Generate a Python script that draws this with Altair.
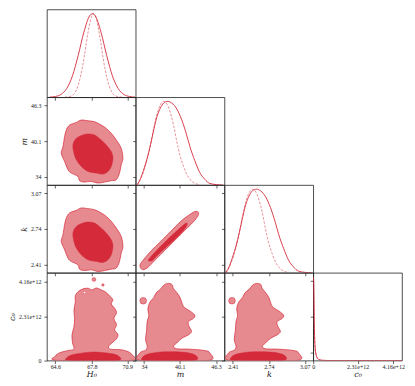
import altair as alt
import pandas as pd

# ---------------- axes ----------------
TITLES = ["H₀", "m", "k", "c₀"]
DOMAINS = [[63.86, 71.64], [32.56, 47.74], [2.333, 3.147], [0.0, 4.62]]
TICKS = [[64.6, 67.8, 70.9], [34.0, 40.1, 46.3], [2.41, 2.74, 3.07], [0.0, 2.31, 4.16]]
TICK_LABELS = [["64.6", "67.8", "70.9"], ["34", "40.1", "46.3"],
               ["2.41", "2.74", "3.07"], ["0", "2.31e+12", "4.16e+12"]]
DIAG_TICKS = [0.1, 0.525, 0.95]

# ---------------- 1D marginals (c0 in units of 1e12) ----------------
H0_X = [64.1, 64.6, 65.1, 65.6, 66.1, 66.6, 67.1, 67.6, 67.85, 68.1, 68.6, 69.1, 69.6, 70.1, 70.6, 71.1, 71.6]
H0_SOLID = [0.002, 0.009, 0.034, 0.105, 0.256, 0.499, 0.778, 0.973, 1.0, 0.973, 0.778, 0.499, 0.256, 0.105, 0.034, 0.009, 0.002]
H0_DX = [65.45, 65.95, 66.45, 66.95, 67.45, 67.7, 67.95, 68.2, 68.45, 68.95, 69.45, 69.95, 70.45]
H0_DASH = [0.001, 0.013, 0.088, 0.34, 0.763, 0.935, 1.0, 0.935, 0.763, 0.34, 0.088, 0.013, 0.001]

M_X = [32.56, 32.84, 33.40, 33.96, 34.53, 35.09, 35.65, 36.21, 36.78, 37.34, 38.07, 38.74, 39.59, 40.43, 41.27, 41.83, 42.68, 43.52, 44.36, 45.21, 46.33, 47.46]
M_SOLID = [0.0, 0.01, 0.08, 0.19, 0.32, 0.48, 0.66, 0.82, 0.92, 0.98, 1.0, 0.98, 0.91, 0.78, 0.6, 0.46, 0.29, 0.15, 0.07, 0.02, 0.005, 0.0]
M_DX = [32.84, 33.40, 33.96, 34.53, 35.09, 35.65, 36.21, 36.78, 37.34, 37.90, 38.46, 39.02, 39.59, 40.15, 40.71, 41.27, 41.83, 42.68, 43.52]
M_DASH = [0.0, 0.07, 0.17, 0.31, 0.48, 0.68, 0.85, 0.96, 1.0, 0.97, 0.87, 0.72, 0.52, 0.35, 0.23, 0.13, 0.07, 0.02, 0.005]

K_X = [2.333, 2.348, 2.378, 2.408, 2.439, 2.469, 2.499, 2.529, 2.559, 2.589, 2.628, 2.665, 2.710, 2.755, 2.800, 2.830, 2.876, 2.921, 2.966, 3.011, 3.072, 3.132]
K_SOLID = [0.0, 0.01, 0.08, 0.19, 0.32, 0.48, 0.66, 0.82, 0.92, 0.98, 1.0, 0.98, 0.91, 0.78, 0.6, 0.46, 0.29, 0.15, 0.07, 0.02, 0.005, 0.0]
K_DX = [2.348, 2.378, 2.408, 2.439, 2.469, 2.499, 2.529, 2.559, 2.589, 2.619, 2.650, 2.680, 2.710, 2.740, 2.770, 2.800, 2.830, 2.876, 2.921]
K_DASH = [0.0, 0.07, 0.17, 0.31, 0.48, 0.68, 0.85, 0.96, 1.0, 0.97, 0.87, 0.72, 0.52, 0.35, 0.23, 0.13, 0.07, 0.02, 0.005]

C0_X = [0.0, 0.02, 0.035, 0.05, 0.07, 0.1, 0.14, 0.2, 0.3, 0.45, 0.7, 1.2, 4.6]
C0_SOLID = [1.0, 0.95, 0.75, 0.5, 0.3, 0.15, 0.08, 0.035, 0.012, 0.004, 0.001, 0.0, 0.0]
C0_DASH = [1.0, 0.95, 0.75, 0.5, 0.3, 0.15, 0.08, 0.035, 0.012, 0.004, 0.001, 0.0, 0.0]

# ---------------- 2D contours (outer = 95%, inner = 68%) ----------------
HM_OUT_H0 = [66.87, 66.44, 65.85, 65.56, 65.41, 65.27, 65.12, 65.41, 65.71, 66.0, 66.58, 66.72, 67.16, 67.75, 68.33, 68.91, 69.5, 69.94, 70.22, 70.37, 70.52, 70.37, 69.94, 69.5, 69.06, 68.62, 68.04, 67.46]
HM_OUT_M = [43.79, 43.38, 42.93, 42.08, 40.92, 39.21, 38.06, 36.63, 35.2, 34.62, 34.05, 33.31, 33.07, 33.19, 32.9, 33.07, 33.31, 33.48, 34.62, 36.06, 37.2, 38.92, 40.36, 41.5, 42.35, 42.93, 43.5, 43.67]
HM_IN_H0 = [67.02, 66.44, 66.14, 66.23, 66.44, 66.87, 67.46, 68.19, 68.77, 69.21, 69.5, 69.65, 69.5, 69.06, 68.62, 68.04, 67.46]
HM_IN_M = [41.22, 40.63, 39.5, 38.06, 36.92, 35.77, 34.91, 34.62, 34.45, 34.91, 35.77, 37.2, 38.35, 39.5, 40.36, 41.22, 41.39]

HK_OUT_H0 = [66.87, 66.44, 65.85, 65.56, 65.41, 65.27, 65.12, 65.41, 65.71, 66.0, 66.58, 66.72, 67.16, 67.75, 68.33, 68.91, 69.5, 69.94, 70.22, 70.37, 70.52, 70.37, 69.94, 69.5, 69.06, 68.62, 68.04, 67.46]
HK_OUT_K = [2.934, 2.912, 2.888, 2.841, 2.779, 2.686, 2.624, 2.547, 2.469, 2.438, 2.407, 2.367, 2.354, 2.361, 2.345, 2.354, 2.367, 2.377, 2.438, 2.516, 2.577, 2.670, 2.748, 2.810, 2.856, 2.888, 2.918, 2.928]
HK_IN_H0 = [67.02, 66.44, 66.14, 66.23, 66.44, 66.87, 67.46, 68.19, 68.77, 69.21, 69.5, 69.65, 69.5, 69.06, 68.62, 68.04, 67.46]
HK_IN_K = [2.794, 2.763, 2.702, 2.624, 2.562, 2.500, 2.454, 2.438, 2.429, 2.454, 2.500, 2.578, 2.640, 2.702, 2.748, 2.794, 2.804]

MK_OUT_M = [33.29, 33.68, 35.09, 36.78, 38.46, 40.15, 41.55, 42.68, 43.24, 43.24, 42.40, 40.99, 39.31, 37.62, 35.93, 34.53, 33.68]
MK_OUT_K = [2.400, 2.439, 2.530, 2.621, 2.712, 2.804, 2.864, 2.901, 2.895, 2.864, 2.804, 2.728, 2.637, 2.545, 2.454, 2.378, 2.363]
MK_IN_M = [34.81, 36.21, 37.90, 39.59, 40.99, 41.38, 40.99, 39.59, 37.90, 36.21, 35.37, 34.81]
MK_IN_K = [2.460, 2.545, 2.637, 2.722, 2.788, 2.788, 2.743, 2.661, 2.576, 2.491, 2.445, 2.445]

HC_OUT_H0 = [64.54, 64.60, 64.98, 65.71, 66.23, 66.11, 66.06, 66.23, 66.29, 66.23, 66.35, 66.35, 66.64, 67.11, 67.51, 67.81, 68.19, 68.62, 68.97, 69.35, 69.64, 69.50, 69.79, 69.96, 69.73, 69.96, 69.79, 70.08, 69.96, 69.56, 69.26, 69.44, 70.37, 71.01, 71.34, 71.42, 68.0]
HC_OUT_C0 = [0.02, 0.24, 0.41, 0.53, 0.60, 0.93, 1.35, 1.78, 2.21, 2.64, 3.07, 3.41, 3.65, 3.79, 3.80, 3.72, 3.82, 3.72, 3.62, 3.41, 3.20, 2.98, 2.76, 2.52, 2.21, 1.90, 1.61, 1.39, 1.15, 0.93, 0.74, 0.60, 0.57, 0.46, 0.29, 0.02, 0.01]
HC_IN_H0 = [65.56, 66.0, 66.87, 67.89, 68.91, 69.79, 70.23, 70.14, 68.0, 65.71]
HC_IN_C0 = [0.12, 0.29, 0.39, 0.45, 0.41, 0.33, 0.19, 0.02, 0.01, 0.02]
HC_ISL_H0 = [67.98, 68.77]
HC_ISL_C0 = [4.27, 3.98]
HC_HOLE_H0 = [67.16]
HC_HOLE_C0 = [3.58]

MC_OUT_M = [33.12, 33.29, 34.25, 34.53, 34.25, 34.41, 34.53, 34.81, 34.64, 34.98, 35.65, 36.10, 36.78, 37.34, 38.01, 38.74, 39.02, 39.59, 40.15, 40.43, 40.71, 41.27, 42.12, 42.68, 42.40, 41.55, 41.72, 42.12, 41.55, 40.71, 40.15, 39.59, 39.02, 39.59, 41.83, 44.36, 45.21, 45.32, 39.0]
MC_OUT_C0 = [0.02, 0.41, 0.55, 0.75, 1.10, 1.53, 2.04, 2.38, 2.72, 3.07, 3.32, 3.58, 3.75, 3.96, 4.06, 4.01, 3.79, 3.58, 3.32, 3.07, 2.86, 2.72, 2.55, 2.38, 2.21, 2.04, 1.78, 1.53, 1.35, 1.22, 1.10, 0.93, 0.75, 0.62, 0.60, 0.53, 0.41, 0.02, 0.01]
MC_IN_M = [33.68, 34.53, 36.78, 39.59, 41.83, 42.96, 42.68, 38.0, 33.97]
MC_IN_C0 = [0.15, 0.33, 0.45, 0.46, 0.39, 0.24, 0.02, 0.01, 0.02]
MC_ISL_M = [33.85]
MC_ISL_C0 = [3.15]

KC_OUT_K = [2.363, 2.372, 2.423, 2.439, 2.423, 2.432, 2.439, 2.454, 2.445, 2.463, 2.499, 2.523, 2.559, 2.589, 2.625, 2.665, 2.680, 2.710, 2.740, 2.755, 2.770, 2.800, 2.846, 2.876, 2.861, 2.815, 2.824, 2.846, 2.815, 2.770, 2.740, 2.710, 2.680, 2.710, 2.830, 2.966, 3.011, 3.017, 2.68]
KC_OUT_C0 = [0.02, 0.41, 0.55, 0.75, 1.10, 1.53, 2.04, 2.38, 2.72, 3.07, 3.32, 3.58, 3.75, 3.96, 4.06, 4.01, 3.79, 3.58, 3.32, 3.07, 2.86, 2.72, 2.55, 2.38, 2.21, 2.04, 1.78, 1.53, 1.35, 1.22, 1.10, 0.93, 0.75, 0.62, 0.60, 0.53, 0.41, 0.02, 0.01]
KC_IN_K = [2.393, 2.439, 2.559, 2.710, 2.830, 2.891, 2.876, 2.62, 2.408]
KC_IN_C0 = [0.15, 0.33, 0.45, 0.46, 0.39, 0.24, 0.02, 0.01, 0.02]
KC_ISL_K = [2.402]
KC_ISL_C0 = [3.15]

# ---------------- styling ----------------
LIGHT = "#e68a90"
DARK = "#d42a3a"
LINE = "#d42a3a"
INK = "#222222"
TICK_FONT = "Liberation Serif"
TITLE_FONT = "DejaVu Serif"
W, H = 89, 88


def label_expr(i):
    e = "''"
    for v, s in reversed(list(zip(TICKS[i], TICK_LABELS[i]))):
        e = f"(abs(datum.value - {v}) < 1e-6 ? '{s}' : {e})"
    return e


def axis(i, orient, show):
    kw = dict(values=TICKS[i], grid=False, domain=False, ticks=True, tickSize=3,
              tickColor=INK, tickWidth=0.7, labels=show, labelFont=TICK_FONT,
              labelFontSize=6, labelColor=INK, labelFlush=False, labelOverlap=False)
    if show:
        kw.update(labelExpr=label_expr(i), title=TITLES[i], titleFont=TITLE_FONT,
                  titleFontStyle="italic", titleFontWeight="normal", titleFontSize=8,
                  titleColor=INK, titlePadding=1 if orient == "x" else 2,
                  labelPadding=0 if orient == "x" else 3)
    else:
        kw["title"] = None
    return alt.Axis(**kw)


def sc(i):
    return alt.Scale(domain=DOMAINS[i], nice=False, zero=False)


def enc_xy(i, j, row_is_bottom, col_is_left):
    return dict(
        x=alt.X("x:Q", scale=sc(j), axis=axis(j, "x", row_is_bottom)),
        y=alt.Y("y:Q", scale=sc(i), axis=axis(i, "y", col_is_left)),
    )


def poly(xs, ys, i, j, fill, sw, rb, cl):
    df = pd.DataFrame({"x": xs, "y": ys, "o": list(range(len(xs)))})
    return alt.Chart(df).mark_line(
        interpolate="cardinal-closed", fill=fill, stroke=LINE, strokeWidth=sw, clip=True
    ).encode(order="o:Q", **enc_xy(i, j, rb, cl))


def dots(xs, ys, i, j, fill, size, rb, cl):
    df = pd.DataFrame({"x": xs, "y": ys})
    return alt.Chart(df).mark_circle(
        size=size, fill=fill, stroke=LINE, strokeWidth=0.5, opacity=1, clip=True
    ).encode(**enc_xy(i, j, rb, cl))


def off_diag(i, j, out_x, out_y, in_x, in_y, extras=()):
    rb, cl = (i == 3), (j == 0)
    layers = [poly(out_x, out_y, i, j, LIGHT, 0.7, rb, cl),
              poly(in_x, in_y, i, j, DARK, 0.5, rb, cl)]
    for xs, ys, fill, size in extras:
        layers.append(dots(xs, ys, i, j, fill, size, rb, cl))
    return alt.layer(*layers).properties(width=W, height=H)


def curve(xs, ys, i, dashed):
    df = pd.DataFrame({"x": xs, "y": ys})
    mk = dict(interpolate="monotone", stroke=LINE, strokeWidth=0.9, clip=True)
    if dashed:
        mk.update(strokeDash=[2.5, 1.5], strokeWidth=0.7, opacity=0.75)
    if i > 0:
        yax = alt.Axis(values=DIAG_TICKS, labels=False, title=None, ticks=True,
                       domain=False, grid=False, tickSize=3, tickColor=INK, tickWidth=0.7)
    else:
        yax = None
    return alt.Chart(df).mark_line(**mk).encode(
        x=alt.X("x:Q", scale=sc(i), axis=axis(i, "x", i == 3)),
        y=alt.Y("y:Q", scale=alt.Scale(domain=[0, 1.05], nice=False, zero=False), axis=yax),
    )


def diag(i, sx, sy, dx, dy):
    return alt.layer(curve(sx, sy, i, False), curve(dx, dy, i, True)).properties(width=W, height=H)


def empty():
    return alt.Chart(pd.DataFrame({"a": pd.Series([], dtype=float)})).mark_point(opacity=0).properties(
        width=W, height=H, view=alt.ViewBackground(stroke="transparent"))


cells = {
    (0, 0): diag(0, H0_X, H0_SOLID, H0_DX, H0_DASH),
    (1, 1): diag(1, M_X, M_SOLID, M_DX, M_DASH),
    (2, 2): diag(2, K_X, K_SOLID, K_DX, K_DASH),
    (3, 3): diag(3, C0_X, C0_SOLID, C0_X, C0_DASH),
    (1, 0): off_diag(1, 0, HM_OUT_H0, HM_OUT_M, HM_IN_H0, HM_IN_M),
    (2, 0): off_diag(2, 0, HK_OUT_H0, HK_OUT_K, HK_IN_H0, HK_IN_K),
    (2, 1): off_diag(2, 1, MK_OUT_M, MK_OUT_K, MK_IN_M, MK_IN_K),
    (3, 0): off_diag(3, 0, HC_OUT_H0, HC_OUT_C0, HC_IN_H0, HC_IN_C0,
                     [(HC_ISL_H0[:1], HC_ISL_C0[:1], LIGHT, 14),
                      (HC_ISL_H0[1:], HC_ISL_C0[1:], LIGHT, 6),
                      (HC_HOLE_H0, HC_HOLE_C0, "white", 7)]),
    (3, 1): off_diag(3, 1, MC_OUT_M, MC_OUT_C0, MC_IN_M, MC_IN_C0,
                     [(MC_ISL_M, MC_ISL_C0, LIGHT, 45)]),
    (3, 2): off_diag(3, 2, KC_OUT_K, KC_OUT_C0, KC_IN_K, KC_IN_C0,
                     [(KC_ISL_K, KC_ISL_C0, LIGHT, 45)]),
}

ordered = []
for r in range(4):
    for c in range(4):
        ordered.append(cells.get((r, c), empty()) if c <= r else empty())

chart = alt.concat(*ordered, columns=4, spacing=0, bounds="flush").properties(
    padding={"left": 0, "top": 0, "right": 2, "bottom": 0},
    background="white",
).configure_view(stroke=INK, strokeWidth=0.8)

chart.save("out.html", embed_options={"renderer": "svg", "actions": False})
